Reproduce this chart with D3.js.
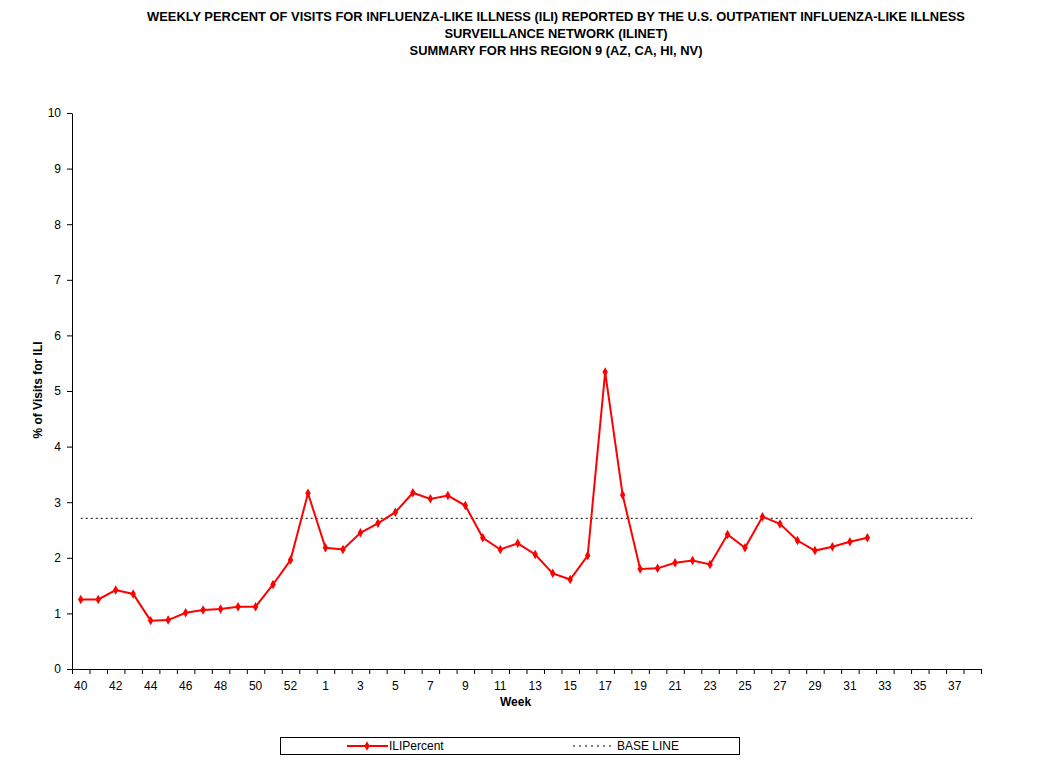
<!DOCTYPE html>
<html>
<head>
<meta charset="utf-8">
<script src="https://d3js.org/d3.v7.min.js"></script>
<style>
  body { margin: 0; background: #fff; }
  text { font-family: "Liberation Sans", Arial, sans-serif; }
  .title { font-family: "Liberation Sans Narrow", "Arial Narrow", "Liberation Sans", sans-serif; font-weight: bold; font-size: 12.9px; }
</style>
</head>
<body>
<script>
// weeks of the season 2008-09 (week 53 included)
const weeks = ["40","41","42","43","44","45","46","47","48","49","50","51","52","53",
  "1","2","3","4","5","6","7","8","9","10","11","12","13","14","15","16","17","18","19",
  "20","21","22","23","24","25","26","27","28","29","30","31","32","33","34","35","36","37","38"];

const iliPercent = [1.25, 1.25, 1.42, 1.35, 0.87, 0.88, 1.01, 1.06, 1.08, 1.12, 1.12, 1.52, 1.96, 3.16,
  2.18, 2.15, 2.45, 2.62, 2.82, 3.17, 3.06, 3.12, 2.94, 2.36, 2.15, 2.26, 2.06, 1.72, 1.61, 2.04,
  5.34, 3.13, 1.80, 1.81, 1.91, 1.95, 1.88, 2.42, 2.18, 2.74, 2.61, 2.31, 2.13, 2.20, 2.29, 2.36];

const baseLine = 2.71;
const yTicks = [0, 1, 2, 3, 4, 5, 6, 7, 8, 9, 10];

const titleLines = [
  "WEEKLY PERCENT OF VISITS FOR INFLUENZA-LIKE ILLNESS (ILI) REPORTED BY THE U.S. OUTPATIENT INFLUENZA-LIKE ILLNESS",
  "SURVEILLANCE NETWORK (ILINET)",
  "SUMMARY FOR HHS REGION 9 (AZ, CA, HI, NV)"
];

const W = 1061, H = 763;
const plotLeft = 72, plotRight = 981, plotTop = 113, plotBottom = 669;

const svg = d3.select("body").append("svg")
  .attr("width", W)
  .attr("height", H);

// title
svg.selectAll("text.title")
  .data(titleLines)
  .enter()
  .append("text")
  .attr("class", "title")
  .attr("x", 556)
  .attr("y", (d, i) => 21 + i * 17)
  .attr("text-anchor", "middle")
  .text(d => d);

const x = d3.scaleBand()
  .domain(weeks)
  .range([plotLeft, plotRight])
  .padding(0);

const xEdge = d3.scaleLinear()
  .domain([0, weeks.length])
  .range([plotLeft, plotRight]);

const y = d3.scaleLinear()
  .domain([0, 10])
  .range([plotBottom, plotTop]);

const cx = w => x(w) + x.bandwidth() / 2;

// y axis
const yAxis = svg.append("g")
  .attr("transform", "translate(" + plotLeft + ",0)")
  .call(d3.axisLeft(y).tickValues(yTicks).tickSize(5).tickSizeOuter(0).tickFormat(d3.format("d")));
yAxis.select(".domain").attr("stroke", "#000");
yAxis.selectAll("text").attr("font-size", 12).attr("fill", "#000").attr("dx", "-3").attr("font-family", "Liberation Sans, Arial, sans-serif");

// x axis: tick marks at category edges
const xTickAxis = svg.append("g")
  .attr("transform", "translate(0," + plotBottom + ")")
  .call(d3.axisBottom(xEdge).tickValues(d3.range(weeks.length + 1)).tickSize(5).tickSizeOuter(0).tickFormat(""));
xTickAxis.select(".domain").attr("stroke", "#000");

// x axis: labels every other week
const xLabelAxis = svg.append("g")
  .attr("transform", "translate(0," + plotBottom + ")")
  .call(d3.axisBottom(x).tickValues(weeks.filter((d, i) => i % 2 === 0)).tickSize(0).tickPadding(12));
xLabelAxis.select(".domain").remove();
xLabelAxis.selectAll("text").attr("font-size", 12).attr("fill", "#000").attr("font-family", "Liberation Sans, Arial, sans-serif");

// axis titles
svg.append("text")
  .attr("x", (plotLeft + plotRight) / 2 - 11)
  .attr("y", 706)
  .attr("text-anchor", "middle")
  .attr("font-weight", "bold")
  .attr("font-size", 12)
  .text("Week");

svg.append("text")
  .attr("transform", "translate(42,390) rotate(-90)")
  .attr("text-anchor", "middle")
  .attr("font-weight", "bold")
  .attr("font-size", 12)
  .text("% of Visits for ILI");

// base line
svg.append("line")
  .attr("x1", cx(weeks[0]))
  .attr("x2", cx(weeks[weeks.length - 1]))
  .attr("y1", y(baseLine))
  .attr("y2", y(baseLine))
  .attr("stroke", "#000")
  .attr("stroke-width", 1)
  .attr("stroke-dasharray", "2,3");

// ILI series
const series = iliPercent.map((v, i) => ({ week: weeks[i], value: v }));

svg.append("path")
  .datum(series)
  .attr("fill", "none")
  .attr("stroke", "#ff0000")
  .attr("stroke-width", 2)
  .attr("d", d3.line().x(d => cx(d.week)).y(d => y(d.value)));

const diamond = d3.symbol().type(d3.symbolDiamond).size(26);

svg.selectAll("path.marker")
  .data(series)
  .enter()
  .append("path")
  .attr("class", "marker")
  .attr("transform", d => "translate(" + cx(d.week) + "," + y(d.value) + ")")
  .attr("d", diamond)
  .attr("fill", "#ff0000");

// legend
const legend = svg.append("g");
legend.append("rect")
  .attr("x", 280.5)
  .attr("y", 737.5)
  .attr("width", 459)
  .attr("height", 17)
  .attr("fill", "#fff")
  .attr("stroke", "#000");

legend.append("line")
  .attr("x1", 347).attr("x2", 388)
  .attr("y1", 746).attr("y2", 746)
  .attr("stroke", "#ff0000").attr("stroke-width", 2);
legend.append("path")
  .attr("transform", "translate(367,746)")
  .attr("d", diamond)
  .attr("fill", "#ff0000");
legend.append("text")
  .attr("x", 389).attr("y", 750)
  .attr("font-size", 12)
  .text("ILIPercent");

legend.append("line")
  .attr("x1", 573).attr("x2", 611)
  .attr("y1", 746).attr("y2", 746)
  .attr("stroke", "#000").attr("stroke-width", 1)
  .attr("stroke-dasharray", "2,4");
legend.append("text")
  .attr("x", 617).attr("y", 750)
  .attr("font-size", 12)
  .text("BASE LINE");
</script>
</body>
</html>
